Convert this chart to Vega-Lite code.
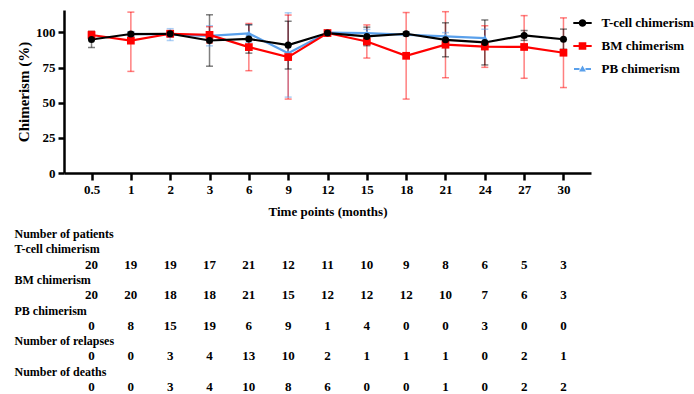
{
  "$schema": "https://vega.github.io/schema/vega-lite/v6.json",
  "padding": {"left": 14, "top": 10, "right": 0, "bottom": 0},
  "spacing": 10,
  "background": "white",
  "config": {
    "view": {"stroke": null},
    "axis": {
      "domainColor": "#000000", "domainWidth": 2.5, "tickColor": "#000000", "tickWidth": 2.5,
      "labelFont": "Liberation Serif", "labelFontWeight": "bold", "labelFontSize": 13, "labelColor": "#000000",
      "titleFont": "Liberation Serif", "titleFontWeight": "bold", "titleColor": "#000000", "grid": false
    }
  },
  "datasets": {
    "chim": [
      {"t": "1", "s": "PB chimerism", "v": 99, "lo": 97.5, "hi": 100.5},
      {"t": "2", "s": "PB chimerism", "v": 98.5, "lo": 94.3, "hi": 102.7},
      {"t": "3", "s": "PB chimerism", "v": 97.6, "lo": 90.5, "hi": 104.8},
      {"t": "6", "s": "PB chimerism", "v": 99.3, "lo": 93, "hi": 105.6},
      {"t": "9", "s": "PB chimerism", "v": 85.3, "lo": 54, "hi": 114},
      {"t": "12", "s": "PB chimerism", "v": 100, "lo": 100, "hi": 100},
      {"t": "15", "s": "PB chimerism", "v": 99.6, "lo": 97, "hi": 102.2},
      {"t": "21", "s": "PB chimerism", "v": 97.2, "lo": 94.5, "hi": 99.9},
      {"t": "24", "s": "PB chimerism", "v": 96, "lo": 89.7, "hi": 102.3},
      {"t": "0.5", "s": "BM chimerism", "v": 98.2, "lo": 95.5, "hi": 100.9},
      {"t": "1", "s": "BM chimerism", "v": 94.2, "lo": 72.3, "hi": 114.5},
      {"t": "2", "s": "BM chimerism", "v": 99.1, "lo": 97.5, "hi": 100.7},
      {"t": "3", "s": "BM chimerism", "v": 98.3, "lo": 92.5, "hi": 104.1},
      {"t": "6", "s": "BM chimerism", "v": 89.6, "lo": 72.8, "hi": 106.4},
      {"t": "9", "s": "BM chimerism", "v": 82.5, "lo": 52.6, "hi": 112.4},
      {"t": "12", "s": "BM chimerism", "v": 99.6, "lo": 98.8, "hi": 100.4},
      {"t": "15", "s": "BM chimerism", "v": 93.6, "lo": 81.8, "hi": 105.4},
      {"t": "18", "s": "BM chimerism", "v": 83.4, "lo": 52.6, "hi": 114.2},
      {"t": "21", "s": "BM chimerism", "v": 91.3, "lo": 67.8, "hi": 114.8},
      {"t": "24", "s": "BM chimerism", "v": 90, "lo": 75.2, "hi": 104.8},
      {"t": "27", "s": "BM chimerism", "v": 89.7, "lo": 67.4, "hi": 112},
      {"t": "30", "s": "BM chimerism", "v": 85.6, "lo": 60.8, "hi": 110.4},
      {"t": "0.5", "s": "T-cell chimerism", "v": 95, "lo": 89.3, "hi": 100.7},
      {"t": "1", "s": "T-cell chimerism", "v": 98.9, "lo": 97.6, "hi": 100.2},
      {"t": "2", "s": "T-cell chimerism", "v": 99.1, "lo": 97.9, "hi": 100.3},
      {"t": "3", "s": "T-cell chimerism", "v": 94.3, "lo": 76, "hi": 112.6},
      {"t": "6", "s": "T-cell chimerism", "v": 95.4, "lo": 85.3, "hi": 105.5},
      {"t": "9", "s": "T-cell chimerism", "v": 91, "lo": 74, "hi": 108},
      {"t": "12", "s": "T-cell chimerism", "v": 99.6, "lo": 98.8, "hi": 100.4},
      {"t": "15", "s": "T-cell chimerism", "v": 97.2, "lo": 90.6, "hi": 103.8},
      {"t": "18", "s": "T-cell chimerism", "v": 99.1, "lo": 97.8, "hi": 100.4},
      {"t": "21", "s": "T-cell chimerism", "v": 94.8, "lo": 82.7, "hi": 106.9},
      {"t": "24", "s": "T-cell chimerism", "v": 92.9, "lo": 76.9, "hi": 108.9},
      {"t": "27", "s": "T-cell chimerism", "v": 97.9, "lo": 94.4, "hi": 101.4},
      {"t": "30", "s": "T-cell chimerism", "v": 95.2, "lo": 88, "hi": 102.4}
    ],
    "counts": [
      {"t": "0.5", "row": 2, "n": "20"}, {"t": "1", "row": 2, "n": "19"}, {"t": "2", "row": 2, "n": "19"}, {"t": "3", "row": 2, "n": "17"}, {"t": "6", "row": 2, "n": "21"}, {"t": "9", "row": 2, "n": "12"}, {"t": "12", "row": 2, "n": "11"}, {"t": "15", "row": 2, "n": "10"}, {"t": "18", "row": 2, "n": "9"}, {"t": "21", "row": 2, "n": "8"}, {"t": "24", "row": 2, "n": "6"}, {"t": "27", "row": 2, "n": "5"}, {"t": "30", "row": 2, "n": "3"},
      {"t": "0.5", "row": 4, "n": "20"}, {"t": "1", "row": 4, "n": "20"}, {"t": "2", "row": 4, "n": "18"}, {"t": "3", "row": 4, "n": "18"}, {"t": "6", "row": 4, "n": "21"}, {"t": "9", "row": 4, "n": "15"}, {"t": "12", "row": 4, "n": "12"}, {"t": "15", "row": 4, "n": "12"}, {"t": "18", "row": 4, "n": "12"}, {"t": "21", "row": 4, "n": "10"}, {"t": "24", "row": 4, "n": "7"}, {"t": "27", "row": 4, "n": "6"}, {"t": "30", "row": 4, "n": "3"},
      {"t": "0.5", "row": 6, "n": "0"}, {"t": "1", "row": 6, "n": "8"}, {"t": "2", "row": 6, "n": "15"}, {"t": "3", "row": 6, "n": "19"}, {"t": "6", "row": 6, "n": "6"}, {"t": "9", "row": 6, "n": "9"}, {"t": "12", "row": 6, "n": "1"}, {"t": "15", "row": 6, "n": "4"}, {"t": "18", "row": 6, "n": "0"}, {"t": "21", "row": 6, "n": "0"}, {"t": "24", "row": 6, "n": "3"}, {"t": "27", "row": 6, "n": "0"}, {"t": "30", "row": 6, "n": "0"},
      {"t": "0.5", "row": 8, "n": "0"}, {"t": "1", "row": 8, "n": "0"}, {"t": "2", "row": 8, "n": "3"}, {"t": "3", "row": 8, "n": "4"}, {"t": "6", "row": 8, "n": "13"}, {"t": "9", "row": 8, "n": "10"}, {"t": "12", "row": 8, "n": "2"}, {"t": "15", "row": 8, "n": "1"}, {"t": "18", "row": 8, "n": "1"}, {"t": "21", "row": 8, "n": "1"}, {"t": "24", "row": 8, "n": "0"}, {"t": "27", "row": 8, "n": "2"}, {"t": "30", "row": 8, "n": "1"},
      {"t": "0.5", "row": 10, "n": "0"}, {"t": "1", "row": 10, "n": "0"}, {"t": "2", "row": 10, "n": "3"}, {"t": "3", "row": 10, "n": "4"}, {"t": "6", "row": 10, "n": "10"}, {"t": "9", "row": 10, "n": "8"}, {"t": "12", "row": 10, "n": "6"}, {"t": "15", "row": 10, "n": "0"}, {"t": "18", "row": 10, "n": "0"}, {"t": "21", "row": 10, "n": "1"}, {"t": "24", "row": 10, "n": "0"}, {"t": "27", "row": 10, "n": "2"}, {"t": "30", "row": 10, "n": "2"}
    ],
    "labels": [
      {"t": "0.5", "row": 0, "label": "Number of patients"},
      {"t": "0.5", "row": 1, "label": "T-cell chimerism"},
      {"t": "0.5", "row": 3, "label": "BM chimerism"},
      {"t": "0.5", "row": 5, "label": "PB chimerism"},
      {"t": "0.5", "row": 7, "label": "Number of relapses"},
      {"t": "0.5", "row": 9, "label": "Number of deaths"}
    ]
  },
  "vconcat": [
    {
      "width": 527,
      "height": 163,
      "data": {"name": "chim"},
      "encoding": {
        "x": {
          "field": "t", "type": "ordinal", "sort": null,
          "scale": {"type": "point", "domain": ["0.5", "1", "2", "3", "6", "9", "12", "15", "18", "21", "24", "27", "30"], "padding": 0.7},
          "axis": {"title": "Time points (months)", "titleFontSize": 13, "titlePadding": 9, "labelAngle": 0, "tickSize": 7, "labelPadding": 3}
        },
        "color": {
          "field": "s", "type": "nominal",
          "scale": {"domain": ["T-cell chimerism", "BM chimerism", "PB chimerism"], "range": ["#000000", "#FF0000", "#5AA0EB"]},
          "legend": {
            "title": null, "orient": "none", "legendX": 508.5, "legendY": 3, "padding": 0,
            "symbolSize": 400, "symbolStrokeWidth": 0, "labelOffset": 9, "rowPadding": 6,
            "labelFont": "Liberation Serif", "labelFontWeight": "bold", "labelFontSize": 13, "labelColor": "#000000",
            "encode": {
              "symbols": {
                "update": {
                  "shape": {"signal": "datum.value === 'T-cell chimerism' ? 'M-0.92,-0.1H-0.36V0.1H-0.92Z M0.36,-0.1H0.92V0.1H0.36Z M-0.38,0A0.38,0.38 0 1,1 0.38,0A0.38,0.38 0 1,1 -0.38,0Z' : datum.value === 'BM chimerism' ? 'M-0.92,-0.1H-0.38V0.1H-0.92Z M0.38,-0.1H0.92V0.1H0.38Z M-0.38,-0.38H0.38V0.38H-0.38Z' : 'M-0.85,-0.1H-0.3V0.1H-0.85Z M0.3,-0.1H0.85V0.1H0.3Z M0,-0.34L0.34,0.24H-0.34Z'"},
                  "fill": {"signal": "datum.value === 'T-cell chimerism' ? '#000000' : datum.value === 'BM chimerism' ? '#FF0000' : '#5AA0EB'"},
                  "stroke": {"value": "transparent"},
                  "strokeWidth": {"value": 0},
                  "opacity": {"value": 1},
                  "fillOpacity": {"value": 1}
                }
              }
            }
          }
        }
      },
      "layer": [
        {
          "mark": {"type": "rule", "strokeWidth": 1.5, "opacity": 0.5},
          "encoding": {
            "y": {"field": "lo", "type": "quantitative", "scale": {"domain": [0, 116], "nice": false}, "axis": {"title": "Chimerism (%)", "titleFontSize": 15, "titlePadding": 4, "values": [0, 25, 50, 75, 100], "tickSize": 6, "labelPadding": 3}},
            "y2": {"field": "hi"}
          }
        },
        {
          "mark": {"type": "tick", "thickness": 1.5, "size": 7, "opacity": 0.5},
          "encoding": {"y": {"field": "lo", "type": "quantitative", "title": "Chimerism (%)"}}
        },
        {
          "mark": {"type": "tick", "thickness": 1.5, "size": 7, "opacity": 0.5},
          "encoding": {"y": {"field": "hi", "type": "quantitative", "title": "Chimerism (%)"}}
        },
        {
          "mark": {"type": "line", "strokeWidth": 2.2},
          "encoding": {"y": {"field": "v", "type": "quantitative", "title": "Chimerism (%)"}}
        },
        {
          "transform": [{"filter": "datum.s === 'PB chimerism'"}],
          "mark": {"type": "point", "filled": true, "size": 50, "opacity": 1, "shape": "triangle-up"},
          "encoding": {"y": {"field": "v", "type": "quantitative", "title": "Chimerism (%)"}}
        },
        {
          "transform": [{"filter": "datum.s === 'BM chimerism'"}],
          "mark": {"type": "point", "filled": true, "size": 60, "opacity": 1, "shape": "square"},
          "encoding": {"y": {"field": "v", "type": "quantitative", "title": "Chimerism (%)"}}
        },
        {
          "transform": [{"filter": "datum.s === 'T-cell chimerism'"}],
          "mark": {"type": "point", "filled": true, "size": 50, "opacity": 1, "shape": "circle"},
          "encoding": {"y": {"field": "v", "type": "quantitative", "title": "Chimerism (%)"}}
        }
      ]
    },
    {
      "width": 527,
      "height": 153,
      "encoding": {
        "x": {
          "field": "t", "type": "ordinal", "sort": null,
          "scale": {"type": "point", "domain": ["0.5", "1", "2", "3", "6", "9", "12", "15", "18", "21", "24", "27", "30"], "padding": 0.7},
          "axis": null
        },
        "y": {
          "field": "row", "type": "ordinal",
          "scale": {"type": "point", "domain": [0, 1, 2, 3, 4, 5, 6, 7, 8, 9, 10], "padding": 0},
          "axis": null
        }
      },
      "layer": [
        {
          "data": {"name": "counts"},
          "mark": {"type": "text", "font": "Liberation Serif", "fontWeight": "bold", "fontSize": 13, "color": "#000000", "baseline": "middle", "align": "center"},
          "encoding": {"text": {"field": "n"}}
        },
        {
          "data": {"name": "labels"},
          "mark": {"type": "text", "font": "Liberation Serif", "fontWeight": "bold", "fontSize": 12, "color": "#000000", "baseline": "middle", "align": "left", "dx": -77},
          "encoding": {"text": {"field": "label"}}
        }
      ]
    }
  ]
}
